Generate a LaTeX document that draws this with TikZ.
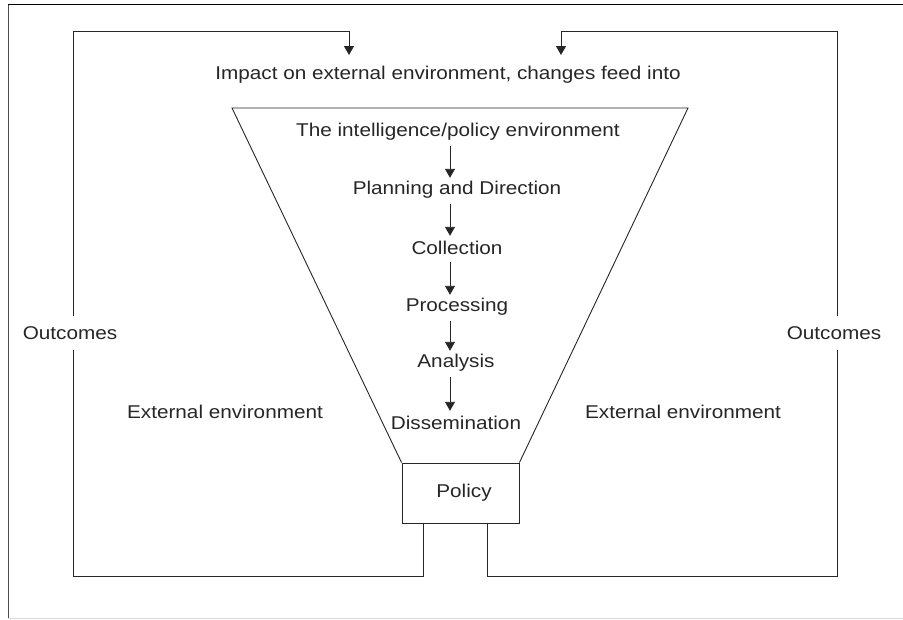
\documentclass[tikz,border=0pt]{standalone}
\usepackage{fontspec}
\setmainfont{Liberation Sans}[FakeStretch=1.12]
\usetikzlibrary{arrows.meta}
\begin{document}
\begin{tikzpicture}[x=1pt,y=-1pt,
  every node/.style={font=\fontsize{18.5}{22}\selectfont, text=black!85},
  ln/.style={line width=0.9pt, draw=black!85},
  arr/.style={ln, -{Triangle[length=9pt,width=10pt]}},
  lbl/.style={inner sep=0pt, minimum height=26pt},
  outlbl/.style={inner sep=0pt, minimum height=34pt}]
\useasboundingbox (0,0) rectangle (903,619);
% frame
\draw[line width=1pt, black!70] (8,619) -- (8,4);
\draw[line width=1pt, black] (8,4) -- (903,4);
\draw[line width=0.8pt, black!15] (8,618) -- (903,618);

% texts
\node (imp) at (448,75) {Impact on external environment, changes feed into};
\node[lbl] (t0) at (458,132) {The intelligence/policy environment};
\node[lbl] (t1) at (457,190) {Planning and Direction};
\node[lbl] (t2) at (457,248) {Collection};
\node[lbl] (t3) at (457,307) {Processing};
\node[lbl] (t4) at (456,363) {Analysis};
\node[lbl] (t5) at (456,423) {Dissemination};
\node (extL) at (225,412) {External environment};
\node (extR) at (683,412) {External environment};
\node[outlbl] (outL) at (70,333) {Outcomes};
\node[outlbl] (outR) at (834,333) {Outcomes};

% policy box
\node[ln, draw, minimum width=117pt, minimum height=60pt, inner sep=0pt] (pol) at (460.5,493) {\hspace*{7pt}Policy};

% funnel
\coordinate (fTL) at (232,108);
\coordinate (fTR) at (688,108);
\draw[ln] (pol.north west) -- (fTL) -- (fTR) -- (pol.north east);

% funnel arrows
\coordinate (ax) at (450,0);
\foreach \a/\b in {t0/t1,t1/t2,t2/t3,t3/t4,t4/t5}
  \draw[arr] (\a.south -| ax) ++(0,1) -- ([yshift=-1pt]\b.north -| ax);

% feedback loops
\coordinate (lx) at (73,0);
\coordinate (rx) at (837.5,0);
\coordinate (legL) at (423,523);
\coordinate (legR) at (487,523);
\coordinate (botL) at (73,576);
\coordinate (botR) at (837.5,576);
\coordinate (topL) at (73,31);
\coordinate (topR) at (837.5,31);
\coordinate (arL) at (349,31);
\coordinate (arR) at (561,31);
\coordinate (tipL) at (349,55);
\coordinate (tipR) at (561,55);

\draw[ln] (legL) |- (botL) -- (outL.south -| lx);
\draw[arr] (outL.north -| lx) -- (topL) -- (arL) -- (tipL);
\draw[ln] (legR) |- (botR) -- (outR.south -| rx);
\draw[arr] (outR.north -| rx) -- (topR) -- (arR) -- (tipR);
\end{tikzpicture}
\end{document}
